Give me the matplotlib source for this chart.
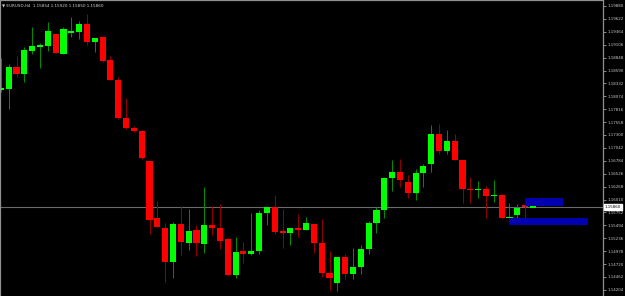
import numpy as np
import matplotlib
matplotlib.use("Agg")
import matplotlib.pyplot as plt

# OHLC prices (oldest first)
opens = [1.18214, 1.18214, 1.18660, 1.18526, 1.18986, 1.19066, 1.19080, 1.19326, 1.18926, 1.19356,
         1.19366, 1.19514, 1.19160, 1.19254, 1.18800, 1.18400, 1.17646, 1.17440, 1.17380, 1.16774,
         1.15640, 1.15440, 1.14766, 1.15520, 1.15146, 1.15400, 1.15126, 1.15494, 1.15440, 1.15220,
         1.14506, 1.14974, 1.14914, 1.14986, 1.15740, 1.15860, 1.15380, 1.15334, 1.15430, 1.15406,
         1.15514, 1.15140, 1.14546, 1.14346, 1.14860, 1.14526, 1.14660, 1.15026, 1.15546, 1.15806,
         1.16446, 1.16554, 1.16360, 1.16146, 1.16546, 1.16726, 1.17320, 1.16974, 1.17174, 1.16806,
         1.16220, 1.16210, 1.16220, 1.16086, 1.16100, 1.15646, 1.15700, 1.15900, 1.15854]
highs = [1.18840, 1.18720, 1.18880, 1.19060, 1.19460, 1.19146, 1.19560, 1.19330, 1.19454, 1.19666,
         1.19580, 1.19714, 1.19250, 1.19260, 1.18880, 1.18454, 1.18034, 1.17470, 1.17400, 1.16780,
         1.15980, 1.15534, 1.15566, 1.15880, 1.15826, 1.15500, 1.16260, 1.15880, 1.15926, 1.15246,
         1.15260, 1.15154, 1.15746, 1.15800, 1.15866, 1.16100, 1.15820, 1.15446, 1.15726, 1.15666,
         1.15520, 1.15626, 1.14980, 1.14866, 1.14914, 1.15034, 1.15100, 1.15586, 1.15854, 1.16450,
         1.16794, 1.16820, 1.16506, 1.16626, 1.16726, 1.17500, 1.17526, 1.17406, 1.17320, 1.16810,
         1.16460, 1.16374, 1.16286, 1.16400, 1.16120, 1.15934, 1.15914, 1.15904, 1.15920]
lows = [1.18160, 1.17820, 1.18460, 1.18360, 1.18920, 1.18646, 1.18986, 1.18930, 1.18920, 1.19266,
        1.19214, 1.19094, 1.18960, 1.18760, 1.18396, 1.17614, 1.17420, 1.17360, 1.16830, 1.15314,
        1.15454, 1.14360, 1.14446, 1.14900, 1.15000, 1.14886, 1.14946, 1.15306, 1.15020, 1.14500,
        1.14446, 1.14746, 1.14910, 1.14914, 1.15506, 1.15314, 1.15034, 1.15100, 1.15254, 1.15400,
        1.14946, 1.14454, 1.14200, 1.14174, 1.14414, 1.14414, 1.14520, 1.14926, 1.15346, 1.15646,
        1.16174, 1.16260, 1.16046, 1.16006, 1.16260, 1.16560, 1.16926, 1.16926, 1.16800, 1.15946,
        1.15946, 1.16046, 1.15634, 1.15966, 1.15640, 1.15514, 1.15586, 1.15614, 1.15850]
closes = [1.18226, 1.18660, 1.18526, 1.18994, 1.19080, 1.19100, 1.19380, 1.18934, 1.19414, 1.19364,
          1.19520, 1.19160, 1.19246, 1.18786, 1.18400, 1.17634, 1.17440, 1.17380, 1.16834, 1.15600,
          1.15460, 1.14766, 1.15520, 1.15154, 1.15380, 1.15140, 1.15494, 1.15440, 1.15180, 1.14506,
          1.14966, 1.14926, 1.14980, 1.15740, 1.15860, 1.15366, 1.15334, 1.15440, 1.15420, 1.15534,
          1.15146, 1.14546, 1.14446, 1.14860, 1.14526, 1.14660, 1.15020, 1.15540, 1.15800, 1.16446,
          1.16554, 1.16406, 1.16146, 1.16540, 1.16680, 1.17320, 1.16974, 1.17180, 1.16806, 1.16220,
          1.16210, 1.16218, 1.16086, 1.16090, 1.15646, 1.15660, 1.15846, 1.15854, 1.15860]

current_price = 1.15860
header = "\u25bc EURUSD,H4  1.15854 1.15920 1.15850 1.15860"

# price axis labels
price_ticks = [1.19880, 1.19622, 1.19364, 1.19106, 1.18848, 1.18590, 1.18332, 1.18074,
               1.17816, 1.17558, 1.17300, 1.17042, 1.16784, 1.16526, 1.16268, 1.16010,
               1.15752, 1.15494, 1.15236, 1.14978, 1.14720, 1.14462, 1.14204]

# zones drawn on the chart: start bar, end bar, lower price, upper price
zone_start = [67, 65]
zone_end = [71.9, 75.0]
zone_low = [1.15886, 1.15500]
zone_high = [1.16040, 1.15646]

o = np.array(opens)
h = np.array(highs)
l = np.array(lows)
c = np.array(closes)
x = np.arange(len(o))
up = c >= o

fig = plt.figure(figsize=(6.25, 2.96), dpi=100, facecolor="black")
ax = fig.add_axes([0, 0, 603 / 625, 1])
ax.set_facecolor("black")

# wicks
ax.vlines(x[up], l[up], h[up], color="#009000", linewidth=0.7, zorder=1)
ax.vlines(x[~up], l[~up], h[~up], color="#960000", linewidth=0.7, zorder=1)

# bodies (dojis get a thin dash)
min_h = 0.0003
mid = (o + c) / 2
body_h = np.maximum(np.abs(c - o), min_h)
body_b = mid - body_h / 2
ax.bar(x[up], body_h[up], bottom=body_b[up], width=0.78, color="#00ff00", zorder=2)
ax.bar(x[~up], body_h[~up], bottom=body_b[~up], width=0.78, color="#ff0000", zorder=2)

# zones
for xs, xe, lo, hi in zip(zone_start, zone_end, zone_low, zone_high):
    ax.bar(xs, hi - lo, bottom=lo, width=xe - xs, align="edge", color="#0000b0", zorder=3)

# current price line
ax.axhline(current_price, color="#6a6a6a", linewidth=0.8, zorder=0.5)

ax.set_xlim(-0.109, 76.95)
ax.set_ylim(1.1408, 1.2000)
ax.set_xticks([])

ax.yaxis.tick_right()
ax.set_yticks(price_ticks)
ax.set_yticklabels([f"{p:.5f}" for p in price_ticks])
ax.tick_params(axis="y", colors="#a0a0a0", labelsize=2.9, length=2, width=0.6, pad=1,
               labelcolor="#c8c8c8")

for side in ["left", "top", "right"]:
    ax.spines[side].set_color("#909090")
    ax.spines[side].set_linewidth(0.9)
ax.spines["bottom"].set_visible(False)

ax.text(1.003, current_price, f"{current_price:.5f}", transform=ax.get_yaxis_transform(),
        fontsize=2.9, color="black", va="center", ha="left",
        bbox=dict(facecolor="white", edgecolor="white", pad=0.5))

ax.text(0.004, 0.988, header, transform=ax.transAxes, fontsize=3.0, color="#d0d0d0",
        va="top", ha="left")

fig.savefig("out.png", dpi=100, facecolor="black")
